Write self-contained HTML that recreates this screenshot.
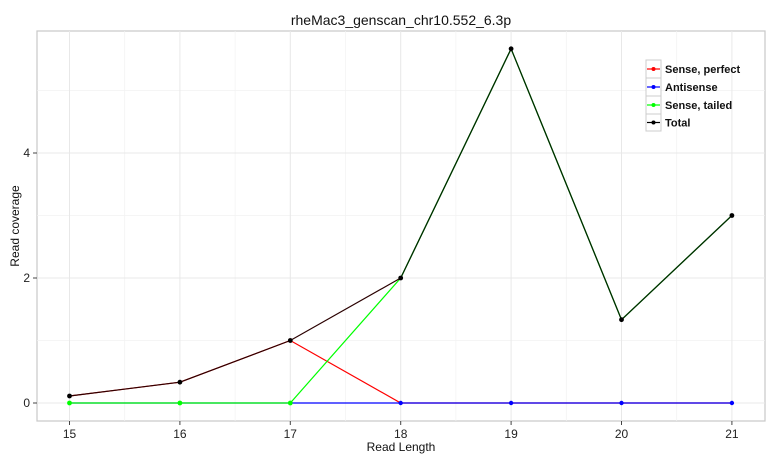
<!DOCTYPE html>
<html><head><meta charset="utf-8"><style>body{margin:0;background:#fff}svg{display:block;font-family:"Liberation Sans",Arial,sans-serif}</style></head>
<body>
<svg width="780" height="460" viewBox="0 0 780 460">
<rect width="780" height="460" fill="#fff"/>
<rect x="37" y="31" width="728" height="390" fill="#fff" stroke="#c8c8c8" stroke-width="1.2"/>
<g stroke="#f2f2f2" stroke-width="0.7">
<line x1="37" x2="765" y1="340.5" y2="340.5"/><line x1="37" x2="765" y1="215.5" y2="215.5"/><line x1="37" x2="765" y1="90.5" y2="90.5"/>
<line y1="31" y2="421" x1="124.7" x2="124.7"/><line y1="31" y2="421" x1="235.1" x2="235.1"/><line y1="31" y2="421" x1="345.5" x2="345.5"/><line y1="31" y2="421" x1="455.9" x2="455.9"/><line y1="31" y2="421" x1="566.3" x2="566.3"/><line y1="31" y2="421" x1="676.7" x2="676.7"/>
</g>
<g stroke="#e8e8e8" stroke-width="1">
<line x1="37" x2="765" y1="403" y2="403"/><line x1="37" x2="765" y1="278" y2="278"/><line x1="37" x2="765" y1="153" y2="153"/>
<line y1="31" y2="421" x1="69.5" x2="69.5"/><line y1="31" y2="421" x1="179.9" x2="179.9"/><line y1="31" y2="421" x1="290.3" x2="290.3"/><line y1="31" y2="421" x1="400.7" x2="400.7"/><line y1="31" y2="421" x1="511.1" x2="511.1"/><line y1="31" y2="421" x1="621.5" x2="621.5"/><line y1="31" y2="421" x1="731.9" x2="731.9"/>
</g>
<g stroke="#444" stroke-width="1">
<line x1="33" x2="37" y1="403" y2="403"/><line x1="33" x2="37" y1="278" y2="278"/><line x1="33" x2="37" y1="153" y2="153"/>
<line y1="421" y2="425" x1="69.5" x2="69.5"/><line y1="421" y2="425" x1="179.9" x2="179.9"/><line y1="421" y2="425" x1="290.3" x2="290.3"/><line y1="421" y2="425" x1="400.7" x2="400.7"/><line y1="421" y2="425" x1="511.1" x2="511.1"/><line y1="421" y2="425" x1="621.5" x2="621.5"/><line y1="421" y2="425" x1="731.9" x2="731.9"/>
</g>
<g font-size="12" fill="#222" text-anchor="end"><text x="30" y="407">0</text><text x="30" y="282">2</text><text x="30" y="157">4</text></g>
<g font-size="12" fill="#222" text-anchor="middle"><text x="69.5" y="438">15</text><text x="179.9" y="438">16</text><text x="290.3" y="438">17</text><text x="400.7" y="438">18</text><text x="511.1" y="438">19</text><text x="621.5" y="438">20</text><text x="731.9" y="438">21</text></g>
<text x="401" y="451" font-size="12" text-anchor="middle" fill="#111">Read Length</text>
<text transform="translate(19,226) rotate(-90)" font-size="12" text-anchor="middle" fill="#111">Read coverage</text>
<text x="401" y="25" font-size="14" text-anchor="middle" fill="#111">rheMac3_genscan_chr10.552_6.3p</text>
<polyline fill="none" stroke="#f00" stroke-width="1.2" points="69.5,396 179.9,382.2 290.3,340.5 400.7,403 731.9,403"/>
<polyline fill="none" stroke="#00f" stroke-width="1.2" points="69.5,403 731.9,403"/>
<polyline fill="none" stroke="#0f0" stroke-width="1.2" points="69.5,403 290.3,403 400.7,278 511.1,48.8 621.5,319.7 731.9,215.5"/>
<polyline fill="none" stroke="#2a0000" stroke-width="1.2" points="69.5,396 179.9,382.2 290.3,340.5 400.7,278"/>
<polyline fill="none" stroke="#002a00" stroke-width="1.3" points="400.7,278 511.1,48.8 621.5,319.7 731.9,215.5"/>
<g fill="#f00"><circle cx="290.3" cy="340.5" r="2.2"/></g>
<g fill="#0f0"><circle cx="69.5" cy="403" r="2.4"/><circle cx="179.9" cy="403" r="2.4"/><circle cx="290.3" cy="403" r="2.4"/></g>
<g fill="#00f"><circle cx="400.7" cy="403" r="2.2"/><circle cx="511.1" cy="403" r="2.2"/><circle cx="621.5" cy="403" r="2.2"/><circle cx="731.9" cy="403" r="2.2"/></g>
<g fill="#000"><circle cx="69.5" cy="396" r="2.4"/><circle cx="179.9" cy="382.2" r="2.4"/><circle cx="290.3" cy="340.5" r="2.4"/><circle cx="400.7" cy="278" r="2.4"/><circle cx="511.1" cy="48.8" r="2.4"/><circle cx="621.5" cy="319.7" r="2.4"/><circle cx="731.9" cy="215.5" r="2.4"/></g>
<g stroke="#ccc" fill="#fff" stroke-width="1"><rect x="646" y="60" width="15" height="18"/><rect x="646" y="78" width="15" height="18"/><rect x="646" y="96" width="15" height="18"/><rect x="646" y="114" width="15" height="17"/></g>
<g stroke-width="1.2"><line x1="647" x2="660" y1="69" y2="69" stroke="#f00"/><line x1="647" x2="660" y1="87" y2="87" stroke="#00f"/><line x1="647" x2="660" y1="105" y2="105" stroke="#0f0"/><line x1="647" x2="660" y1="122.5" y2="122.5" stroke="#000"/></g>
<circle cx="653.5" cy="69" r="2" fill="#f00"/><circle cx="653.5" cy="87" r="2" fill="#00f"/><circle cx="653.5" cy="105" r="2" fill="#0f0"/><circle cx="653.5" cy="122.5" r="2" fill="#000"/>
<g font-size="11" font-weight="bold" fill="#111"><text x="665" y="73">Sense, perfect</text><text x="665" y="91">Antisense</text><text x="665" y="109">Sense, tailed</text><text x="665" y="126.5">Total</text></g>
</svg>
</body></html>
